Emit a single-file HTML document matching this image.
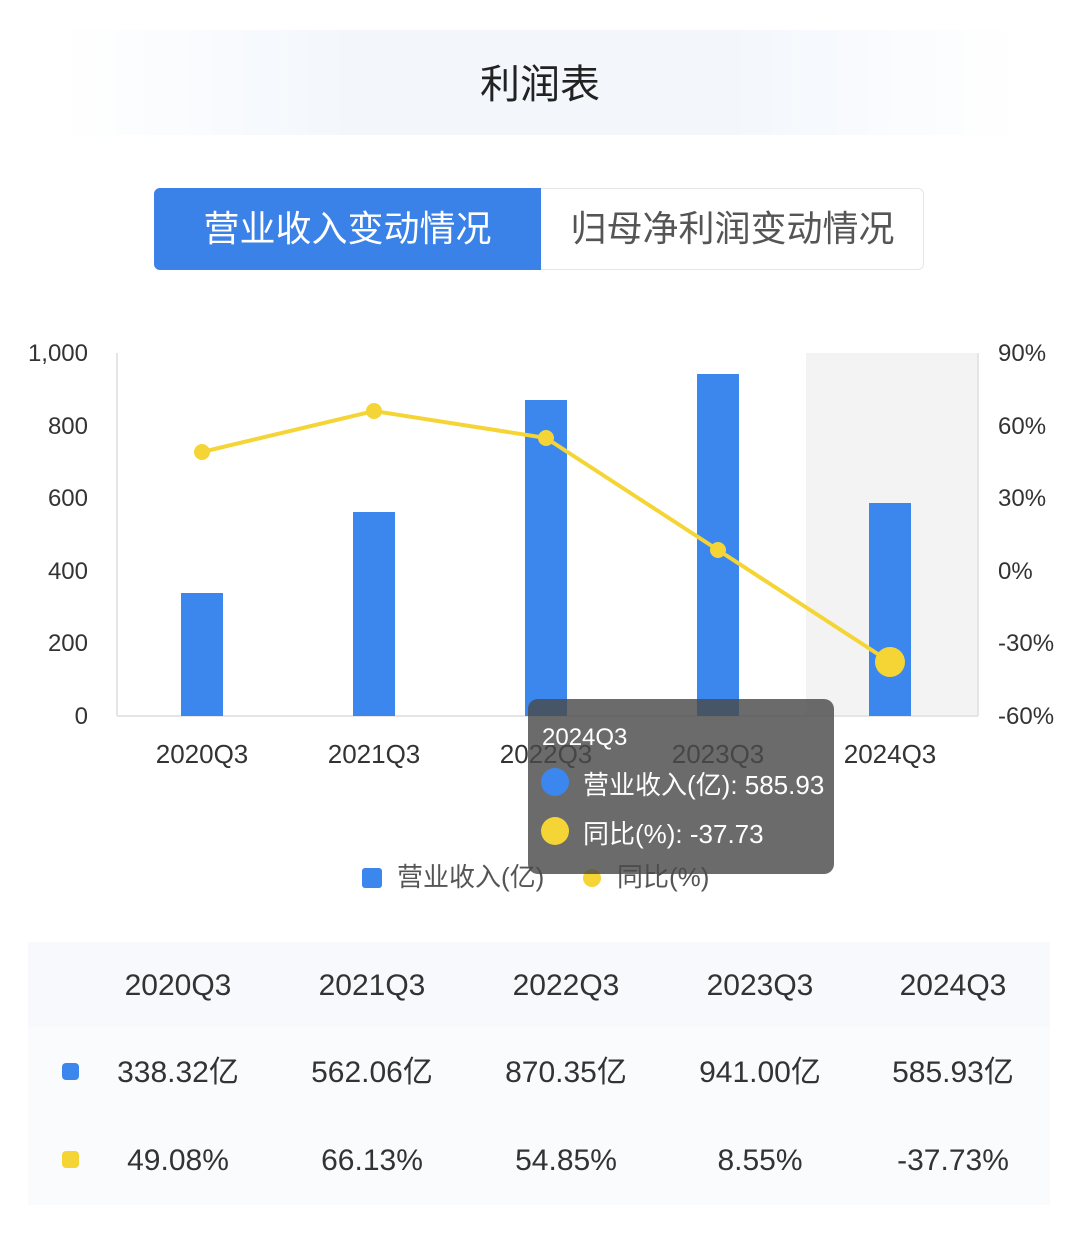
<!DOCTYPE html>
<html><head><meta charset="utf-8"><style>
body{margin:0;width:1080px;height:1233px;background:#fff;font-family:"Liberation Sans","Noto Sans CJK SC",sans-serif;position:relative;overflow:hidden}
.a{position:absolute}
</style></head><body>
<div class="a" style="left:60px;top:30px;width:960px;height:105px;background:linear-gradient(90deg,#fff,#f3f7fc 30%,#f3f7fc 70%,#fff);"></div>
<div class="a" style="left:0;width:1080px;top:52px;text-align:center;font-size:40px;color:#222">利润表</div>
<div class="a" style="left:154px;top:188px;width:770px;height:82px;border:1px solid #e6e6e6;border-radius:6px;box-sizing:border-box;background:#fff"></div>
<div class="a" style="left:154px;top:188px;width:387px;height:82px;background:#3b82e8;border-radius:6px 0 0 6px;color:#fff;font-size:36px;line-height:82px;text-align:center">营业收入变动情况</div>
<div class="a" style="left:541px;top:188px;width:383px;height:82px;color:#555;font-size:36px;line-height:82px;text-align:center">归母净利润变动情况</div>
<svg class="a" style="left:0;top:0" width="1080" height="1233">
<rect x="806" y="353" width="172" height="363" fill="#f3f3f3"/>
<line x1="117" y1="353" x2="117" y2="716" stroke="#e5e5e5" stroke-width="2"/>
<line x1="978" y1="353" x2="978" y2="716" stroke="#e5e5e5" stroke-width="2"/>
<line x1="117" y1="716" x2="978" y2="716" stroke="#e5e5e5" stroke-width="2"/>
<g fill="#3b87ee">
<rect x="181" y="593" width="42" height="123"/>
<rect x="353" y="512" width="42" height="204"/>
<rect x="525" y="400" width="42" height="316"/>
<rect x="697" y="374" width="42" height="342"/>
<rect x="869" y="503" width="42" height="213"/>
</g>
<polyline points="202,452 374,411 546,438 718,550 890,662" fill="none" stroke="#f5d535" stroke-width="4"/>
<g fill="#f5d535"><circle cx="202" cy="452" r="8"/><circle cx="374" cy="411" r="8"/><circle cx="546" cy="438" r="8"/><circle cx="718" cy="550" r="8"/><circle cx="890" cy="662" r="15"/></g>
<g font-size="24" fill="#333" text-anchor="end" font-family="Liberation Sans,sans-serif">
<text x="88" y="361">1,000</text><text x="88" y="434">800</text><text x="88" y="506">600</text><text x="88" y="579">400</text><text x="88" y="651">200</text><text x="88" y="724">0</text>
</g>
<g font-size="24" fill="#333" font-family="Liberation Sans,sans-serif">
<text x="998" y="361">90%</text><text x="998" y="434">60%</text><text x="998" y="506">30%</text><text x="998" y="579">0%</text><text x="998" y="651">-30%</text><text x="998" y="724">-60%</text>
</g>
<g font-size="26" fill="#333" text-anchor="middle" font-family="Liberation Sans,sans-serif">
<text x="202" y="763">2020Q3</text><text x="374" y="763">2021Q3</text><text x="546" y="763">2022Q3</text><text x="718" y="763">2023Q3</text><text x="890" y="763">2024Q3</text>
</g>
<rect x="362" y="868" width="20" height="20" rx="3" fill="#3b87ee"/>
<text x="397" y="886" font-size="26" fill="#555">营业收入(亿)</text>
<circle cx="592" cy="878" r="9" fill="#f5d535"/>
<text x="617" y="886" font-size="26" fill="#555">同比(%)</text>
<rect x="528" y="699" width="306" height="175" rx="10" fill="rgba(75,75,75,0.82)"/>
<text x="542" y="745" font-size="24" fill="#fff">2024Q3</text>
<circle cx="555" cy="782" r="14" fill="#3b87ee"/>
<text x="583" y="794" font-size="26" fill="#fff">营业收入(亿): 585.93</text>
<circle cx="555" cy="831" r="14" fill="#f5d535"/>
<text x="583" y="843" font-size="26" fill="#fff">同比(%): -37.73</text>
</svg>
<div class="a" style="left:28px;top:942px;width:1022px;height:263px;background:#f7f9fc"></div>
<div class="a" style="left:28px;top:1027px;width:1022px;height:178px;background:#fafbfd"></div>
<svg class="a" style="left:0;top:0" width="1080" height="1233">
<g font-size="30" fill="#333" text-anchor="middle">
<text x="178" y="995">2020Q3</text><text x="372" y="995">2021Q3</text><text x="566" y="995">2022Q3</text><text x="760" y="995">2023Q3</text><text x="953" y="995">2024Q3</text>
<text x="178" y="1082">338.32亿</text><text x="372" y="1082">562.06亿</text><text x="566" y="1082">870.35亿</text><text x="760" y="1082">941.00亿</text><text x="953" y="1082">585.93亿</text>
<text x="178" y="1170">49.08%</text><text x="372" y="1170">66.13%</text><text x="566" y="1170">54.85%</text><text x="760" y="1170">8.55%</text><text x="953" y="1170">-37.73%</text>
</g>
<rect x="62" y="1063" width="17" height="17" rx="4" fill="#3b87ee"/>
<rect x="62" y="1151" width="17" height="17" rx="4" fill="#f5d535"/>
</svg>
</body></html>
